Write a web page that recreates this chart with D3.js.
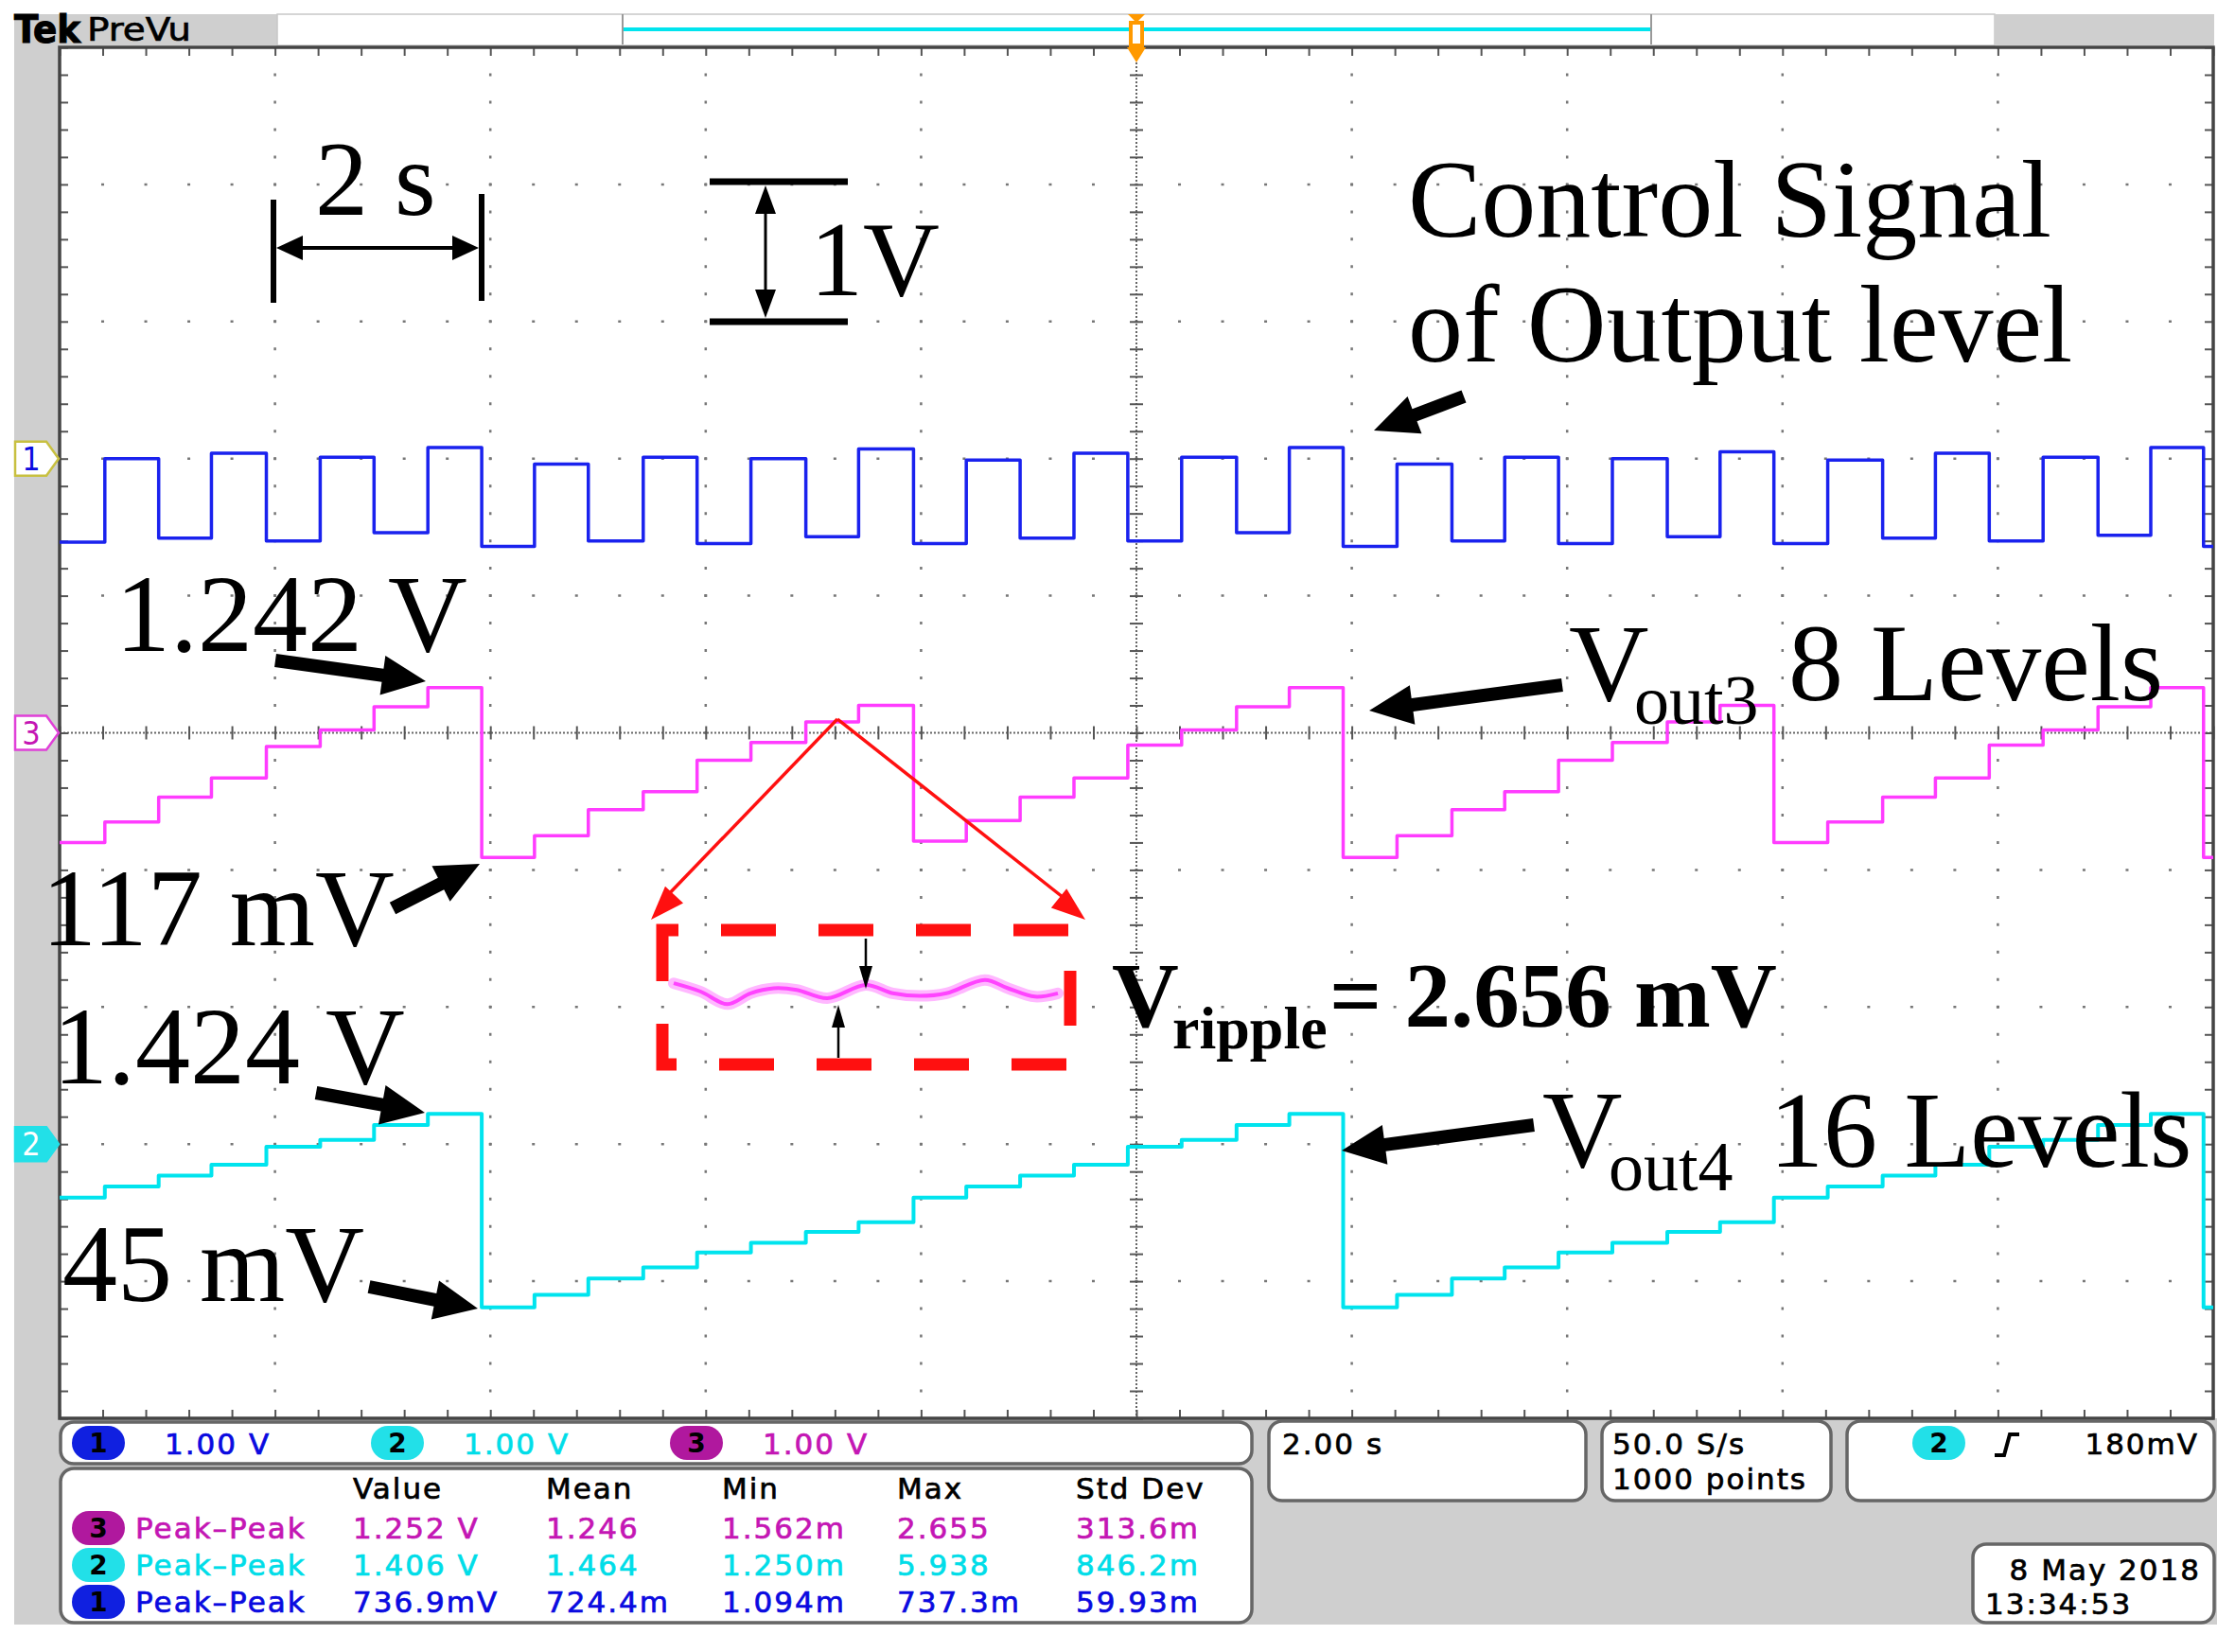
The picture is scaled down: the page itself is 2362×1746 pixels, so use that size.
<!DOCTYPE html>
<html>
<head>
<meta charset="utf-8">
<script src="https://cdn.jsdelivr.net/npm/d3@7"></script>
<style>
  body { margin: 0; background: #fff; }
  svg { display: block; }
</style>
</head>
<body>
<script>
// ---- data ----
// times (s from left edge) where the control signal toggles / the DACs step
const stepTimes = [0.42, 0.92, 1.41, 1.92, 2.42, 2.92, 3.42, 3.92, 4.41, 4.91,
                   5.42, 5.92, 6.42, 6.93, 7.42, 7.93, 8.42, 8.92, 9.42, 9.92,
                   10.42, 10.93, 11.42, 11.92, 12.42, 12.93, 13.42, 13.92, 14.42, 14.93,
                   15.42, 15.92, 16.42, 16.93, 17.42, 17.92, 18.42, 18.93, 19.42, 19.91];

// level (V, relative to channel ground marker) held in each interval
const ch1Volts = [-0.61, 0.00, -0.58, 0.04, -0.60, 0.01, -0.54, 0.08, -0.64, -0.04,
                  -0.60, 0.01, -0.62, 0.00, -0.57, 0.07, -0.62, -0.01, -0.58, 0.04,
                  -0.60, 0.01, -0.54, 0.08, -0.64, -0.04, -0.60, 0.01, -0.62, 0.00,
                  -0.57, 0.05, -0.62, -0.01, -0.58, 0.04, -0.60, 0.01, -0.56, 0.08, -0.64];
const ch3Volts = [-0.80, -0.65, -0.47, -0.33, -0.10, 0.02, 0.19, 0.33, -0.91, -0.75,
                  -0.56, -0.43, -0.20, -0.07, 0.08, 0.20, -0.79, -0.64, -0.47, -0.33,
                  -0.09, 0.02, 0.19, 0.33, -0.91, -0.75, -0.56, -0.43, -0.20, -0.07,
                  0.08, 0.20, -0.80, -0.65, -0.47, -0.33, -0.09, 0.02, 0.19, 0.33, -0.91];
const ch2Volts = [-0.39, -0.31, -0.23, -0.15, -0.02, 0.03, 0.14, 0.22, -1.19, -1.10,
                  -0.98, -0.90, -0.79, -0.72, -0.64, -0.57, -0.39, -0.31, -0.23, -0.15,
                  -0.02, 0.03, 0.14, 0.22, -1.19, -1.10, -0.98, -0.90, -0.79, -0.72,
                  -0.64, -0.57, -0.39, -0.31, -0.23, -0.15, -0.02, 0.03, 0.14, 0.22, -1.19];

// zoomed ripple sketch inside the red box (relative units)
const rippleX = [0, 0.07, 0.14, 0.2, 0.26, 0.32, 0.4, 0.5, 0.57, 0.64, 0.71, 0.81, 0.87, 0.94, 1];
const rippleY = [0.63, 0, -0.95, -0.13, 0.25, 0.13, -0.5, 0.5, -0.13, -0.33, -0.13, 0.88, 0.25, -0.38, -0.13];

// channel readouts
const chNames = ['1', '2', '3'];
const chScales = ['1.00 V', '1.00 V', '1.00 V'];

// measurement table
const measHeaders = ['Value', 'Mean', 'Min', 'Max', 'Std Dev'];
const measChannel = ['3', '2', '1'];
const measType = ['Peak\u2013Peak', 'Peak\u2013Peak', 'Peak\u2013Peak'];
const measValue = ['1.252 V', '1.406 V', '736.9mV'];
const measMean = ['1.246', '1.464', '724.4m'];
const measMin = ['1.562m', '1.250m', '1.094m'];
const measMax = ['2.655', '5.938', '737.3m'];
const measStd = ['313.6m', '846.2m', '59.93m'];

const timebase = '2.00 s';
const acqInfo = ['50.0 S/s', '1000 points'];
const trigLevel = '180mV';
const dateInfo = ['8 May 2018', '13:34:53'];

// ---- layout ----
const W = 2362, H = 1746;
const plot = { left: 63, right: 2339, top: 50, bottom: 1499 };
const chColor = { '1': '#1a22ee', '2': '#00e4ee', '3': '#ff3cff' };
const chText = { '1': '#0a0ae0', '2': '#00dde8', '3': '#c416b4' };
const chPill = { '1': '#1020e0', '2': '#22e0e8', '3': '#b0189e' };
const chPos = { '1': 2, '2': -3, '3': 0 }; // ground marker, divisions from centre

const svg = d3.select('body').append('svg')
    .attr('width', W).attr('height', H)
    .style('background', '#fff');

const x = d3.scaleLinear().domain([0, 20]).range([plot.left, plot.right]);
const y = d3.scaleLinear().domain([-5, 5]).range([plot.bottom, plot.top]);
const yCh = (ch, v) => y(chPos[ch] + v / 1.0);

// ---- frame / bands ----
svg.append('rect').attr('x', 15).attr('y', 15).attr('width', 278).attr('height', 33).attr('fill', '#cfcfcf');
svg.append('rect').attr('x', 293).attr('y', 15).attr('width', 1815).attr('height', 33)
    .attr('fill', '#fff').attr('stroke', '#c8c8c8').attr('stroke-width', 1.5);
svg.append('rect').attr('x', 2108).attr('y', 15).attr('width', 232).attr('height', 33).attr('fill', '#cfcfcf');
svg.append('rect').attr('x', 15).attr('y', 48).attr('width', 48).attr('height', 1669).attr('fill', '#cfcfcf');
svg.append('rect').attr('x', 15).attr('y', 1499).attr('width', 2328).attr('height', 218).attr('fill', '#cfcfcf');

// Tek PreVu label
svg.append('text').attr('x', 15).attr('y', 45).text('Tek')
    .attr('font-family', 'DejaVu Sans Condensed, DejaVu Sans').attr('font-weight', 'bold')
    .attr('font-size', 40).attr('textLength', 70).attr('lengthAdjust', 'spacingAndGlyphs')
    .attr('stroke', '#000').attr('stroke-width', 1);
svg.append('text').attr('x', 92).attr('y', 43).text('PreVu')
    .attr('font-family', 'DejaVu Sans Condensed, DejaVu Sans')
    .attr('font-size', 33).attr('textLength', 110).attr('lengthAdjust', 'spacingAndGlyphs')
    .attr('stroke', '#000').attr('stroke-width', 0.6);

// record view strip
svg.append('line').attr('x1', 658).attr('x2', 1745).attr('y1', 31).attr('y2', 31)
    .attr('stroke', '#00e4ee').attr('stroke-width', 4);
[658, 1745].forEach(bx => {
  svg.append('line').attr('x1', bx).attr('x2', bx).attr('y1', 15).attr('y2', 47)
      .attr('stroke', '#999').attr('stroke-width', 2);
});

// plot area
svg.append('rect').attr('x', plot.left).attr('y', plot.top)
    .attr('width', plot.right - plot.left).attr('height', plot.bottom - plot.top)
    .attr('fill', '#fff');

// ---- graticule ----
const minorX = d3.range(0, 20.001, 0.4);
const minorY = d3.range(-5, 5.001, 0.2);
const majorX = [2, 4, 6, 8, 12, 14, 16, 18];
const majorY = [-4, -3, -2, -1, 1, 2, 3, 4];
const grid = svg.append('g');
const spY = (plot.bottom - plot.top) / 50;
const spX = (plot.right - plot.left) / 50;

grid.selectAll('.vgrid').data(majorX).join('line')
    .attr('x1', d => x(d)).attr('x2', d => x(d))
    .attr('y1', plot.top).attr('y2', plot.bottom)
    .attr('stroke', '#777').attr('stroke-width', 2.5)
    .attr('stroke-dasharray', `3 ${spY - 3}`).attr('stroke-dashoffset', 1.5);
grid.selectAll('.hgrid').data(majorY).join('line')
    .attr('y1', d => y(d)).attr('y2', d => y(d))
    .attr('x1', plot.left).attr('x2', plot.right)
    .attr('stroke', '#777').attr('stroke-width', 2.5)
    .attr('stroke-dasharray', `3 ${spX - 3}`).attr('stroke-dashoffset', 1.5);

// centre cross
grid.append('line').attr('x1', x(10)).attr('x2', x(10)).attr('y1', plot.top).attr('y2', plot.bottom)
    .attr('stroke', '#666').attr('stroke-width', 2).attr('stroke-dasharray', '2 2');
grid.append('line').attr('y1', y(0)).attr('y2', y(0)).attr('x1', plot.left).attr('x2', plot.right)
    .attr('stroke', '#666').attr('stroke-width', 2).attr('stroke-dasharray', '2 2');

function styleAxis(g) {
  g.select('.domain').remove();
  g.selectAll('.tick line').attr('stroke', '#555').attr('stroke-width', 2);
  g.selectAll('.tick text').remove();
}
grid.append('g').attr('transform', `translate(0,${y(0) - 7})`)
    .call(d3.axisBottom(x).tickValues(minorX).tickSize(14).tickFormat('')).call(styleAxis);
grid.append('g').attr('transform', `translate(${x(10) - 7},0)`)
    .call(d3.axisRight(y).tickValues(minorY).tickSize(14).tickFormat('')).call(styleAxis);

// edge ticks
grid.append('g').attr('transform', `translate(0,${plot.top})`)
    .call(d3.axisBottom(x).tickValues(minorX).tickSize(9).tickFormat('')).call(styleAxis);
grid.append('g').attr('transform', `translate(0,${plot.bottom})`)
    .call(d3.axisTop(x).tickValues(minorX).tickSize(9).tickFormat('')).call(styleAxis);
grid.append('g').attr('transform', `translate(${plot.left},0)`)
    .call(d3.axisRight(y).tickValues(minorY).tickSize(9).tickFormat('')).call(styleAxis);
grid.append('g').attr('transform', `translate(${plot.right},0)`)
    .call(d3.axisLeft(y).tickValues(minorY).tickSize(9).tickFormat('')).call(styleAxis);

svg.append('rect').attr('x', plot.left).attr('y', plot.top)
    .attr('width', plot.right - plot.left).attr('height', plot.bottom - plot.top)
    .attr('fill', 'none').attr('stroke', '#444').attr('stroke-width', 3.5);

// ---- traces ----
const stepLine = d3.line().x(d => x(d[0])).y(d => d[1]).curve(d3.curveStepAfter);
function tracePoints(ch, vals) {
  const pts = [[0, yCh(ch, vals[0])]];
  stepTimes.forEach((t, i) => pts.push([t, yCh(ch, vals[i + 1])]));
  pts.push([20, yCh(ch, vals[vals.length - 1])]);
  return pts;
}
const traces = svg.append('g');
[['2', ch2Volts, 4], ['3', ch3Volts, 3.5], ['1', ch1Volts, 3.5]].forEach(([ch, vals, w]) => {
  traces.append('path').attr('d', stepLine(tracePoints(ch, vals)))
      .attr('fill', 'none').attr('stroke', chColor[ch]).attr('stroke-width', w)
      .attr('stroke-linejoin', 'round');
});

// ground markers on the left
function marker(ch, fill, stroke, txt) {
  const yc = yCh(ch, 0);
  svg.append('path')
      .attr('d', `M16,${yc - 18}L49,${yc - 18}L62,${yc}L49,${yc + 18}L16,${yc + 18}Z`)
      .attr('fill', fill).attr('stroke', stroke).attr('stroke-width', 2.5);
  svg.append('text').attr('x', 33).attr('y', yc + 12).attr('text-anchor', 'middle')
      .attr('font-family', 'DejaVu Sans Condensed, DejaVu Sans').attr('font-size', 34)
      .attr('fill', txt).text(ch);
}
marker('1', '#fff', '#c8c040', chText['1']);
marker('3', '#fff', '#e040d8', chText['3']);
marker('2', '#22e0e8', '#22e0e8', '#fff');

// trigger marker
const tx = x(10);
svg.append('path').attr('d', `M${tx - 9},15L${tx + 9},15L${tx},24Z`).attr('fill', '#ff9900');
svg.append('rect').attr('x', tx - 6).attr('y', 24).attr('width', 12).attr('height', 24)
    .attr('fill', '#fff').attr('stroke', '#ff9900').attr('stroke-width', 4);
svg.append('path').attr('d', `M${tx - 10},${plot.top}L${tx + 10},${plot.top}L${tx},${plot.top + 16}Z`)
    .attr('fill', '#ff9900');

// ---- annotations ----
const ann = svg.append('g');
const serif = 'Liberation Serif, Times New Roman, serif';

function fatArrow(x1, y1, x2, y2, w, hl, hw) {
  const dx = x2 - x1, dy = y2 - y1, L = Math.hypot(dx, dy);
  const ux = dx / L, uy = dy / L, px = -uy, py = ux;
  const bx = x2 - ux * hl, by = y2 - uy * hl;
  const p = [
    [x1 + px * w / 2, y1 + py * w / 2], [bx + px * w / 2, by + py * w / 2],
    [bx + px * hw / 2, by + py * hw / 2], [x2, y2],
    [bx - px * hw / 2, by - py * hw / 2], [bx - px * w / 2, by - py * w / 2],
    [x1 - px * w / 2, y1 - py * w / 2]
  ];
  return 'M' + p.map(q => q.join(',')).join('L') + 'Z';
}
function head(x1, y1, x2, y2, hl, hw) {
  const dx = x2 - x1, dy = y2 - y1, L = Math.hypot(dx, dy);
  const ux = dx / L, uy = dy / L, px = -uy, py = ux;
  const bx = x2 - ux * hl, by = y2 - uy * hl;
  return `M${x2},${y2}L${bx + px * hw / 2},${by + py * hw / 2}L${bx - px * hw / 2},${by - py * hw / 2}Z`;
}

// big black arrows
[[1547, 419, 1452, 455], [291, 698, 450, 720], [415, 960, 507, 913],
 [334, 1155, 449, 1176], [390, 1360, 505, 1383], [1651, 724, 1447, 751],
 [1621, 1189, 1418, 1216]].forEach(a => {
  ann.append('path').attr('d', fatArrow(a[0], a[1], a[2], a[3], 14, 46, 42)).attr('fill', '#000');
});

// 2 s scale bar
ann.append('line').attr('x1', 289).attr('x2', 289).attr('y1', 211).attr('y2', 320).attr('stroke', '#000').attr('stroke-width', 6);
ann.append('line').attr('x1', 509).attr('x2', 509).attr('y1', 205).attr('y2', 318).attr('stroke', '#000').attr('stroke-width', 6);
ann.append('line').attr('x1', 300).attr('x2', 498).attr('y1', 262).attr('y2', 262).attr('stroke', '#000').attr('stroke-width', 4);
ann.append('path').attr('d', head(320, 262, 292, 262, 28, 26)).attr('fill', '#000');
ann.append('path').attr('d', head(480, 262, 506, 262, 28, 26)).attr('fill', '#000');
ann.append('text').attr('x', 333).attr('y', 227).attr('font-family', serif).attr('font-size', 112).text('2 s');

// 1V scale bar
ann.append('line').attr('x1', 750).attr('x2', 896).attr('y1', 192).attr('y2', 192).attr('stroke', '#000').attr('stroke-width', 7);
ann.append('line').attr('x1', 750).attr('x2', 896).attr('y1', 340).attr('y2', 340).attr('stroke', '#000').attr('stroke-width', 7);
ann.append('line').attr('x1', 809).attr('x2', 809).attr('y1', 210).attr('y2', 322).attr('stroke', '#000').attr('stroke-width', 3);
ann.append('path').attr('d', head(809, 226, 809, 196, 30, 22)).attr('fill', '#000');
ann.append('path').attr('d', head(809, 306, 809, 336, 30, 22)).attr('fill', '#000');
ann.append('text').attr('x', 856).attr('y', 312).attr('font-family', serif).attr('font-size', 112).text('1V');

// text labels
[['Control Signal', 1488, 250], ['of Output level', 1488, 382],
 ['1.242 V', 122, 688], ['117 mV', 44, 999], ['1.424 V', 56, 1145], ['45 mV', 66, 1375]]
  .forEach(([t, tx0, ty0]) => {
    ann.append('text').attr('x', tx0).attr('y', ty0).attr('font-family', serif)
        .attr('font-size', 116).text(t);
  });

function subLabel(parts, bold) {
  const t = ann.append('text').attr('font-family', serif).attr('font-weight', bold ? 'bold' : 'normal');
  parts.forEach(p => t.append('tspan').attr('x', p.x).attr('y', p.y).attr('font-size', p.s).text(p.t));
}
subLabel([{ t: 'V', x: 1658, y: 740, s: 117 }, { t: 'out3', x: 1727, y: 765, s: 74 },
          { t: '8 Levels', x: 1890, y: 740, s: 116 }]);
subLabel([{ t: 'V', x: 1630, y: 1233, s: 117 }, { t: 'out4', x: 1700, y: 1258, s: 74 },
          { t: '16 Levels', x: 1870, y: 1233, s: 114 }]);
subLabel([{ t: 'V', x: 1175, y: 1085, s: 98 }, { t: 'ripple', x: 1239, y: 1108, s: 64 },
          { t: '= 2.656 mV', x: 1405, y: 1085, s: 97 }], true);

// red zoom lines from the ramp peak to the ripple box
const apex = [885, 760];
ann.append('line').attr('x1', apex[0]).attr('y1', apex[1]).attr('x2', 700).attr('y2', 952)
    .attr('stroke', '#ff1010').attr('stroke-width', 3.5);
ann.append('path').attr('d', head(apex[0], apex[1], 688, 972, 36, 26)).attr('fill', '#ff1010');
ann.append('line').attr('x1', apex[0]).attr('y1', apex[1]).attr('x2', 1128).attr('y2', 952)
    .attr('stroke', '#ff1010').attr('stroke-width', 3.5);
ann.append('path').attr('d', head(apex[0], apex[1], 1147, 972, 36, 26)).attr('fill', '#ff1010');

// ripple inset
const rx = d3.scaleLinear().domain([0, 1]).range([712, 1118]);
const ry = d3.scaleLinear().domain([-1, 1]).range([1062, 1034]);
const rippleLine = d3.line().x((d, i) => rx(rippleX[i])).y(d => ry(d)).curve(d3.curveCatmullRom);
ann.append('path').attr('d', rippleLine(rippleY)).attr('fill', 'none')
    .attr('stroke', '#ffb8ff').attr('stroke-width', 12).attr('stroke-linecap', 'round');
ann.append('path').attr('d', rippleLine(rippleY)).attr('fill', 'none')
    .attr('stroke', '#ff44ff').attr('stroke-width', 4);
ann.append('rect').attr('x', 700).attr('y', 983).attr('width', 431).attr('height', 142)
    .attr('fill', 'none').attr('stroke', '#ff1010').attr('stroke-width', 13)
    .attr('stroke-dasharray', '58 45').attr('stroke-dashoffset', 41);
ann.append('line').attr('x1', 915).attr('x2', 915).attr('y1', 992).attr('y2', 1025).attr('stroke', '#000').attr('stroke-width', 2.5);
ann.append('path').attr('d', head(915, 1000, 915, 1045, 24, 14)).attr('fill', '#000');
ann.append('line').attr('x1', 886).attr('x2', 886).attr('y1', 1118).attr('y2', 1080).attr('stroke', '#000').attr('stroke-width', 2.5);
ann.append('path').attr('d', head(886, 1110, 886, 1062, 24, 14)).attr('fill', '#000');

// ---- bottom readout panels ----
const sans = 'DejaVu Sans, Verdana, sans-serif';
const panel = svg.append('g');
function box(x0, y0, w, h) {
  panel.append('rect').attr('x', x0).attr('y', y0).attr('width', w).attr('height', h)
      .attr('rx', 14).attr('fill', '#fff').attr('stroke', '#666').attr('stroke-width', 3.5);
}
function pill(cx, cy, ch) {
  panel.append('rect').attr('x', cx - 28).attr('y', cy - 18).attr('width', 56).attr('height', 36)
      .attr('rx', 18).attr('fill', chPill[ch]);
  panel.append('text').attr('x', cx).attr('y', cy + 10).attr('text-anchor', 'middle')
      .attr('font-family', sans).attr('font-weight', 'bold').attr('font-size', 28).attr('fill', '#000').text(ch);
}
function label(t, x0, y0, color, anchor) {
  panel.append('text').attr('x', x0).attr('y', y0).attr('font-family', sans).attr('font-size', 31)
      .attr('letter-spacing', 2).attr('fill', color || '#000')
      .attr('stroke', color || '#000').attr('stroke-width', 0.7)
      .attr('text-anchor', anchor || 'start').text(t);
}

box(64, 1503, 1259, 44);
const chX = [104, 420, 736];
chNames.forEach((ch, i) => {
  pill(chX[i], 1525, ch);
  label(chScales[i], chX[i] + 70, 1537, chText[ch]);
});

box(64, 1552, 1259, 163);
const colX = [373, 577, 763, 948, 1137];
measHeaders.forEach((h, i) => label(h, colX[i], 1584));
const rowY = [1626, 1665, 1704];
measChannel.forEach((ch, r) => {
  pill(104, rowY[r] - 11, ch);
  label(measType[r], 143, rowY[r], chText[ch]);
  [measValue, measMean, measMin, measMax, measStd].forEach((col, c) => {
    label(col[r], colX[c], rowY[r], chText[ch]);
  });
});

box(1341, 1502, 335, 84);
label(timebase, 1355, 1537);
box(1693, 1502, 242, 84);
label(acqInfo[0], 1704, 1537);
label(acqInfo[1], 1704, 1574);
box(1952, 1502, 388, 84);
pill(2049, 1525, '2');
panel.append('path').attr('d', 'M2108,1538L2118,1538L2124,1516L2134,1516')
    .attr('fill', 'none').attr('stroke', '#000').attr('stroke-width', 4);
label(trigLevel, 2324, 1537, '#000', 'end');
box(2085, 1632, 255, 83);
label(dateInfo[0], 2326, 1670, '#000', 'end');
label(dateInfo[1], 2098, 1706);
</script>
</body>
</html>
